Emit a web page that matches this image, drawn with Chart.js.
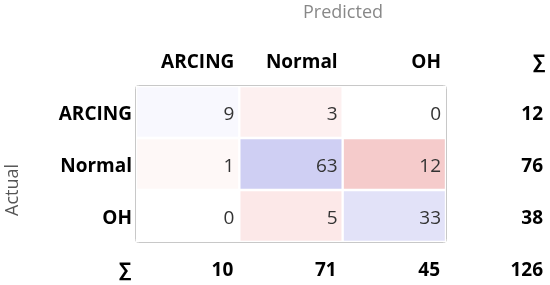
<!DOCTYPE html>
<html>
<head>
<meta charset="utf-8">
<script src="https://cdn.jsdelivr.net/npm/chart.js@4/dist/chart.umd.min.js"></script>
<style>
  html, body { margin: 0; padding: 0; background: #fff; }
  #wrap { width: 550px; height: 285px; }
</style>
</head>
<body>
<div id="wrap"><canvas id="cm"></canvas></div>
<script>
// confusion matrix values (rows = actual, columns = predicted)
const classes = ['ARCING', 'Normal', 'OH'];
const rowArcing = [9, 3, 0];
const rowNormal = [1, 63, 12];
const rowOH = [0, 5, 33];
const rowSums = [12, 76, 38];
const colSums = [10, 71, 45];
const total = 126;

const matrix = [rowArcing, rowNormal, rowOH];

// cell shading, same layout as matrix
const cellColors = [
  ['#f8f8fe', '#fdf0f0', '#ffffff'],
  ['#fef8f7', '#cfcff3', '#f5cbcb'],
  ['#ffffff', '#fce8e8', '#e2e2f8']
];

const FONT = '"Open Sans", "Noto Sans", sans-serif';

// one dataset per predicted column, each cell one unit wide
const datasets = classes.map((c, j) => ({
  label: c,
  data: matrix.map(() => 1),
  backgroundColor: matrix.map((row, i) => cellColors[i][j]),
  borderColor: '#ffffff',
  borderWidth: 1.5,
  borderSkipped: false,
  barPercentage: 1,
  categoryPercentage: 1
}));

const labelsPlugin = {
  id: 'cmLabels',
  beforeDatasetsDraw(chart) {
    const { ctx, chartArea: a } = chart;
    ctx.save();
    ctx.strokeStyle = '#c8c8c8';
    ctx.lineWidth = 1;
    ctx.beginPath();
    ctx.roundRect(a.left - 0.5, a.top - 0.5, a.right - a.left + 1, a.bottom - a.top + 1, 3);
    ctx.stroke();
    ctx.restore();
  },
  afterDatasetsDraw(chart) {
    const { ctx, chartArea: a, scales } = chart;
    const x = scales.x, y = scales.y;
    const rowY = i => y.getPixelForValue(i) + 3;
    const colRight = j => x.getPixelForValue(j + 1) - 5;
    const sumX = 543;
    const topY = 63, botY = 271;
    ctx.save();
    ctx.textBaseline = 'middle';

    // cell values
    ctx.font = '19px ' + FONT;
    ctx.fillStyle = '#333';
    ctx.textAlign = 'right';
    matrix.forEach((row, i) => row.forEach((v, j) => {
      ctx.fillText(String(v), colRight(j), rowY(i));
    }));

    ctx.font = 'bold 19px ' + FONT;
    ctx.fillStyle = '#000';
    // column headers
    classes.forEach((c, j) => ctx.fillText(c, colRight(j), topY));
    ctx.fillText('∑', sumX + 2, topY);
    // row headers
    classes.forEach((c, i) => ctx.fillText(c, a.left - 4, rowY(i)));
    ctx.fillText('∑', a.left - 5, botY);
    // sums
    rowSums.forEach((s, i) => ctx.fillText(String(s), sumX, rowY(i)));
    colSums.forEach((s, j) => ctx.fillText(String(s), colRight(j) - 1, botY));
    ctx.fillText(String(total), sumX, botY);

    // axis titles
    ctx.font = '18px ' + FONT;
    ctx.fillStyle = '#888';
    ctx.textAlign = 'center';
    ctx.fillText('Predicted', 343, 13);
    ctx.fillStyle = '#555';
    ctx.translate(13, (a.top + a.bottom) / 2 + 26);
    ctx.rotate(-Math.PI / 2);
    ctx.fillText('Actual', 0, 0);
    ctx.restore();
  }
};

new Chart(document.getElementById('cm').getContext('2d'), {
  type: 'bar',
  data: { labels: classes, datasets: datasets },
  options: {
    indexAxis: 'y',
    responsive: true,
    maintainAspectRatio: false,
    animation: false,
    layout: { padding: { left: 136, right: 104, top: 86, bottom: 43 } },
    scales: {
      x: { type: 'linear', stacked: true, min: 0, max: 3, display: false },
      y: { type: 'category', stacked: true, display: false }
    },
    plugins: {
      legend: { display: false },
      tooltip: { enabled: false }
    }
  },
  plugins: [labelsPlugin]
});
</script>
</body>
</html>
